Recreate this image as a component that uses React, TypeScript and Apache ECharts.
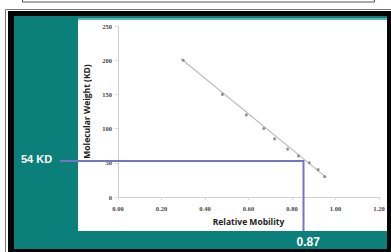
import React, { useEffect, useRef } from "react";
import * as echarts from "echarts";

// Axis ranges / ticks
const xMin = 0;
const xMax = 1.2;
const xStep = 0.2;
const yMin = 0;
const yMax = 250;
const yStep = 50;

// Standard proteins: relative mobility vs molecular weight (KD)
const mobility = [0.3, 0.48, 0.59, 0.67, 0.72, 0.78, 0.83, 0.88, 0.92, 0.95];
const weight = [200, 150, 120, 100, 85, 70, 60, 50, 40, 30];

// Trend line end points
const trendX = [0.29, 0.96];
const trendY = [202, 28];

// Unknown protein read-off
const unknownMobility = 0.85;
const unknownWeight = 53;
const weightLabel = "54 KD";
const mobilityLabel = "0.87";

const xTitle = "Relative Mobility";
const yTitle = "Molecular Weight (KD)";

const TEAL = "#0b7f79";
const BLUE = "#7474c4";

export default function App() {
  const ref = useRef<HTMLDivElement>(null);

  useEffect(() => {
    if (!ref.current) return;
    const chart = echarts.init(ref.current, null, { renderer: "svg" });

    const bg: any[] = [
      {
        id: "topbox",
        type: "rect",
        z: -100,
        shape: { x: 22.5, y: -6, width: 352, height: 8 },
        style: { fill: "#fff", stroke: "#555", lineWidth: 1 },
      },
      {
        id: "outerline",
        type: "rect",
        z: -100,
        shape: { x: 5.5, y: 9.5, width: 390, height: 250 },
        style: { fill: "#fff", stroke: "#777", lineWidth: 1 },
      },
      {
        id: "black",
        type: "rect",
        z: -99,
        shape: { x: 8, y: 11, width: 383, height: 241 },
        style: { fill: "#050505" },
      },
      {
        id: "teal",
        type: "rect",
        z: -98,
        shape: { x: 14, y: 16, width: 373, height: 233 },
        style: { fill: TEAL },
      },
      {
        id: "tealtop",
        type: "rect",
        z: -97,
        shape: { x: 78, y: 18, width: 309, height: 2 },
        style: { fill: "#5fb8b4" },
      },
      {
        id: "panel",
        type: "rect",
        z: -96,
        shape: { x: 78, y: 20, width: 309, height: 211 },
        style: { fill: "#ffffff" },
      },
    ];

    const option: any = {
      animation: false,
      grid: { left: 118, right: 12, top: 26, bottom: 55 },
      xAxis: {
        type: "value",
        min: xMin,
        max: xMax,
        interval: xStep,
        name: xTitle,
        nameLocation: "middle",
        nameGap: 17,
        nameTextStyle: {
          fontFamily: "Open Sans",
          fontWeight: "bold",
          fontSize: 8.5,
          color: "#222",
        },
        axisLine: { lineStyle: { color: "#d0d0d0", width: 1 } },
        axisTick: { show: true, length: 3, lineStyle: { color: "#d8d8d8" } },
        splitLine: { show: false },
        axisLabel: {
          formatter: (v: number) => v.toFixed(2),
          fontFamily: "Liberation Serif",
          fontWeight: "bold",
          fontSize: 6.5,
          color: "#444",
          margin: 8,
        },
      },
      yAxis: {
        type: "value",
        min: yMin,
        max: yMax,
        interval: yStep,
        name: yTitle,
        nameLocation: "middle",
        nameGap: 24,
        nameRotate: 90,
        nameTextStyle: {
          fontFamily: "Open Sans",
          fontWeight: "bold",
          fontSize: 8.5,
          color: "#222",
        },
        axisLine: { show: true, lineStyle: { color: "#d0d0d0", width: 1 } },
        axisTick: { show: true, length: 3, lineStyle: { color: "#d8d8d8" } },
        splitLine: { show: false },
        axisLabel: {
          fontFamily: "Liberation Serif",
          fontWeight: "bold",
          fontSize: 6.5,
          color: "#444",
          margin: 6,
        },
      },
      series: [
        {
          type: "line",
          data: trendX.map((x, i) => [x, trendY[i]]),
          showSymbol: false,
          symbol: "none",
          lineStyle: { color: "#bbbbbb", width: 1.2 },
          z: 2,
        },
        {
          type: "scatter",
          data: mobility.map((x, i) => [x, weight[i]]),
          symbol: "circle",
          symbolSize: 3,
          itemStyle: { color: "#777" },
          z: 3,
        },
      ],
      graphic: { elements: bg },
    };

    chart.setOption(option);

    const p = chart.convertToPixel({ gridIndex: 0 }, [unknownMobility, unknownWeight]) as number[];
    const px = Math.round(p[0]) + 0.5;
    const py = Math.round(p[1]);

    chart.setOption({
      graphic: {
        elements: [
          ...bg,
          {
            id: "hline",
            type: "line",
            z: 100,
            shape: { x1: 60, y1: py, x2: px, y2: py },
            style: { stroke: BLUE, lineWidth: 2 },
          },
          {
            id: "vline",
            type: "line",
            z: 100,
            shape: { x1: px, y1: py - 1, x2: px, y2: 231 },
            style: { stroke: BLUE, lineWidth: 2 },
          },
          {
            id: "wlabel",
            type: "text",
            z: 101,
            x: 21,
            y: py - 2,
            style: {
              text: weightLabel,
              fill: "#ffffff",
              fontFamily: "Liberation Sans",
              fontWeight: "bold",
              fontSize: 11,
              textAlign: "left",
              textVerticalAlign: "middle",
            },
          },
          {
            id: "mlabel",
            type: "text",
            z: 101,
            x: px - 7,
            y: 242,
            style: {
              text: mobilityLabel,
              fill: "#ffffff",
              fontFamily: "Liberation Sans",
              fontWeight: "bold",
              fontSize: 12,
              textAlign: "left",
              textVerticalAlign: "middle",
            },
          },
        ],
      },
    });

    return () => chart.dispose();
  }, []);

  return (
    <div
      ref={ref}
      style={{ position: "absolute", left: 0, top: 0, width: 391, height: 252 }}
    />
  );
}
